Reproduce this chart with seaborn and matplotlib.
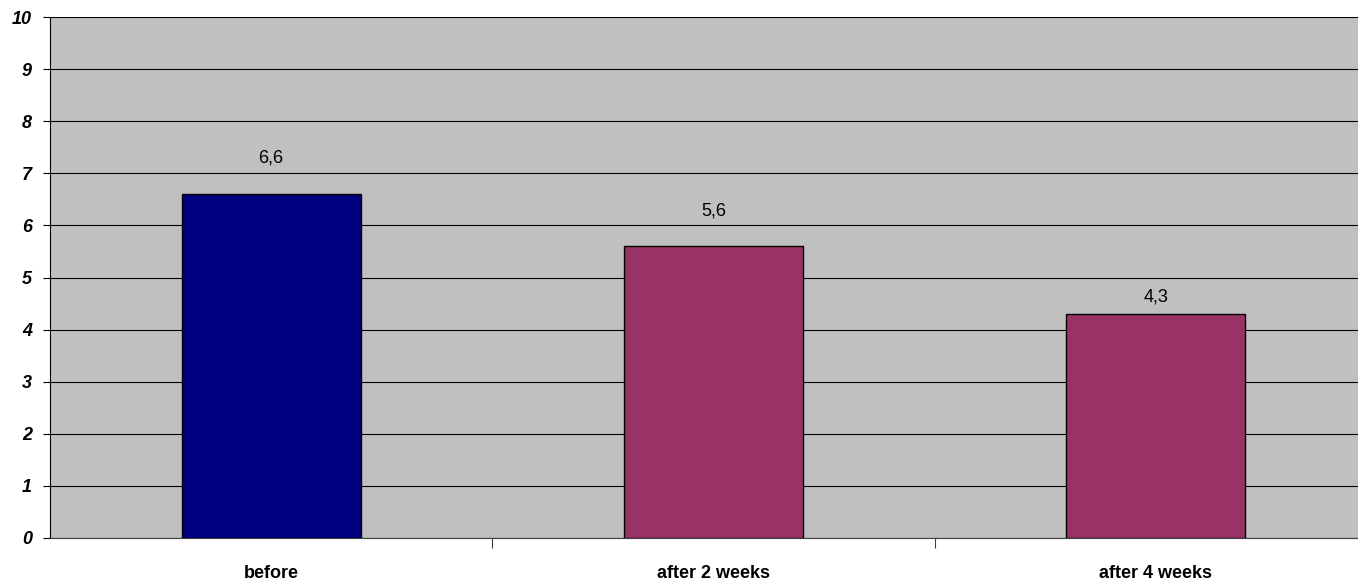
import pandas as pd
import matplotlib.pyplot as plt
import seaborn as sns

# data
categories = ['before', 'after 2 weeks', 'after 4 weeks']
values = [6.6, 5.6, 4.3]
bar_colors = ['#000080', '#993366', '#993366']
# how far above each bar its label sits (the last one is tucked lower)
label_gap = [0.69, 0.68, 0.33]

df = pd.DataFrame({'period': categories, 'score': values})

sns.set_style('white')
plt.rcParams['font.family'] = ['Liberation Sans', 'DejaVu Sans']
plt.rcParams['text.color'] = 'black'
plt.rcParams['xtick.color'] = 'black'
plt.rcParams['ytick.color'] = 'black'

fig = plt.figure(figsize=(13.58, 5.84), dpi=100)
# plot area runs past the right edge, like the original
ax = fig.add_axes([50 / 1358, 46 / 584, 1327 / 1358, 521 / 584])
ax.set_facecolor('#C0C0C0')

sns.barplot(data=df, x='period', y='score', hue='period', palette=bar_colors,
            saturation=1, width=0.405, edgecolor='black', linewidth=1,
            legend=False, ax=ax, zorder=3)

ax.set_xlim(-0.5, 2.5)
ax.set_ylim(0, 10)
ax.set_yticks(range(0, 11))
ax.yaxis.grid(True, color='black', linewidth=0.8, zorder=0)
ax.set_axisbelow(True)

for i, v in enumerate(values):
    ax.text(i, v + label_gap[i], f'{v:.1f}'.replace('.', ','), ha='center', va='center',
            fontsize=13, color='black')

ax.set_xticks([0, 1, 2])
ax.set_xticklabels(categories, fontsize=13, fontweight='bold')
ax.set_xticks([0.5, 1.5], minor=True)
ax.tick_params(axis='x', which='major', bottom=False, pad=16)
ax.tick_params(axis='x', which='minor', bottom=True, length=7, width=0.8, color='#404040')
ax.tick_params(axis='y', left=True, length=5, width=0.8, color='black', pad=8)
for lbl in ax.get_yticklabels():
    lbl.set_fontsize(13)
    lbl.set_fontweight('bold')
    lbl.set_fontstyle('italic')

ax.set_xlabel('')
ax.set_ylabel('')
for side in ['top', 'right']:
    ax.spines[side].set_visible(False)
ax.spines['left'].set_color('black')
ax.spines['bottom'].set_color('#404040')

plt.savefig('out.png', dpi=100)
